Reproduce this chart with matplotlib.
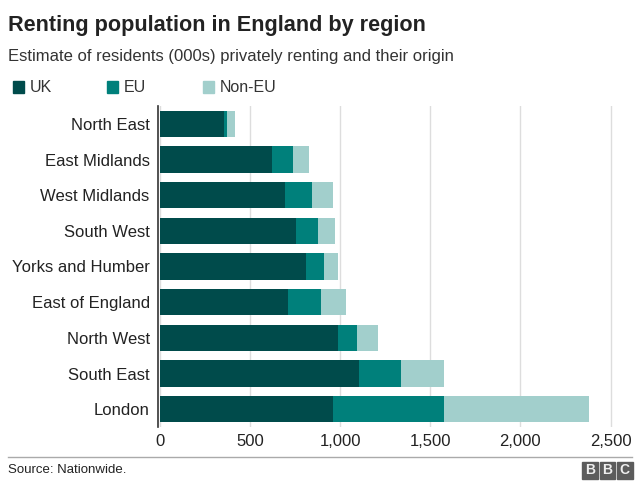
import matplotlib.pyplot as plt
from matplotlib.patches import Rectangle

plt.rcParams['font.family'] = ['Liberation Sans', 'DejaVu Sans']

regions = ["North East", "East Midlands", "West Midlands", "South West",
           "Yorks and Humber", "East of England", "North West", "South East", "London"]
uk = [356, 620, 694, 754, 811, 711, 989, 1106, 961]
eu = [16, 119, 150, 124, 102, 183, 102, 234, 613]
non_eu = [45, 89, 115, 96, 76, 139, 118, 236, 809]

series = ["UK", "EU", "Non-EU"]
colours = ["#004b4b", "#00807b", "#a2cfcc"]
ticks = [0, 500, 1000, 1500, 2000, 2500]

W, H = 640, 487
fig = plt.figure(figsize=(W / 100, H / 100), dpi=100)
ax = fig.add_axes([158 / W, 1 - 427 / H, (625 - 158) / W, (427 - 106) / H])

y = list(range(len(regions)))
left = [0] * len(regions)
for vals, col in zip([uk, eu, non_eu], colours):
    ax.barh(y, vals, left=left, height=0.73, color=col, zorder=3)
    left = [a + b for a, b in zip(left, vals)]

ax.set_ylim(len(regions) - 0.5, -0.5)
ax.set_xlim(-10, 2580)
ax.set_yticks(y)
ax.set_yticklabels(regions)
ax.set_xticks(ticks)
ax.set_xticklabels([f"{t:,}" for t in ticks])
ax.tick_params(axis="y", length=0, pad=6, labelsize=12, labelcolor="#222222")
ax.tick_params(axis="x", length=0, pad=5, labelsize=12, labelcolor="#222222")
ax.grid(axis="x", color="#dddddd", linewidth=1, zorder=0)
for s in ["top", "right", "bottom"]:
    ax.spines[s].set_visible(False)
ax.spines["left"].set_color("#333333")
ax.spines["left"].set_linewidth(1.2)
ax.spines["left"].set_position(("data", -10))

fig.text(8 / W, 1 - 25 / H, "Renting population in England by region",
         fontsize=15.6, fontweight="bold", color="#222222", va="center")
fig.text(8 / W, 1 - 57 / H, "Estimate of residents (000s) privately renting and their origin",
         fontsize=12, color="#333333", va="center")

# legend
for name, col, sx in zip(series, colours, [13, 107, 203]):
    fig.patches.append(Rectangle((sx / W, 1 - 93 / H), 11 / W, 12 / H,
                                 transform=fig.transFigure, color=col))
    fig.text((sx + 17) / W, 1 - 87 / H, name, fontsize=11.5, color="#333333", va="center")

# footer
fig.add_artist(plt.Line2D([8 / W, 632 / W], [1 - 457 / H, 1 - 457 / H],
                          transform=fig.transFigure, color="#aaaaaa", linewidth=1))
fig.text(8 / W, 1 - 470 / H, "Source: Nationwide.", fontsize=9.5, color="#222222", va="center")
for i, letter in enumerate("BBC"):
    bx = 582 + i * 17.5
    fig.patches.append(Rectangle((bx / W, 1 - 479 / H), 15.5 / W, 17 / H,
                                 transform=fig.transFigure, color="#5c5c5c"))
    fig.text((bx + 7.75) / W, 1 - 470.5 / H, letter, fontsize=10, fontweight="bold",
             color="#eeeeee", ha="center", va="center")

fig.savefig("out.png", dpi=100)
